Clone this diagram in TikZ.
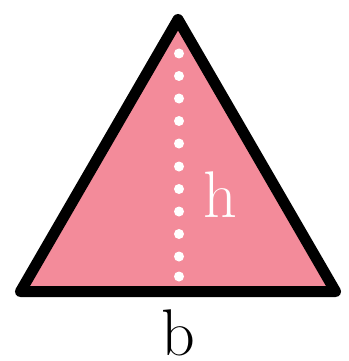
\documentclass[tikz,border=0pt]{standalone}
\definecolor{tripink}{HTML}{F38B9A}
\tikzset{
  tri/.style={draw=black, fill=tripink, line width=11pt, line join=round},
  hdot/.style={circle, fill=white, inner sep=0pt, minimum size=10pt},
  lbl/.style={inner sep=0pt, anchor=base, font=\fontsize{66}{66}\selectfont}
}
\begin{document}
\begin{tikzpicture}[x=1pt,y=-1pt]
\useasboundingbox (0,0) rectangle (348,361);
\coordinate (A) at (178,19.5);
\coordinate (L) at (20.5,291.5);
\coordinate (R) at (335.5,291.5);
\draw[tri] (A) -- (L) -- (R) -- cycle;
\foreach \y [count=\i] in {53.5,76,98.5,121,143.5,166.5,189,211.5,234,256.5,276.5}
  \node[hdot] (d\i) at (179,\y) {};
\node[lbl, text=white] (h) at (220.5,217) {h};
\node[lbl, text=black] (b) at (178.5,355) {b};
\end{tikzpicture}
\end{document}
